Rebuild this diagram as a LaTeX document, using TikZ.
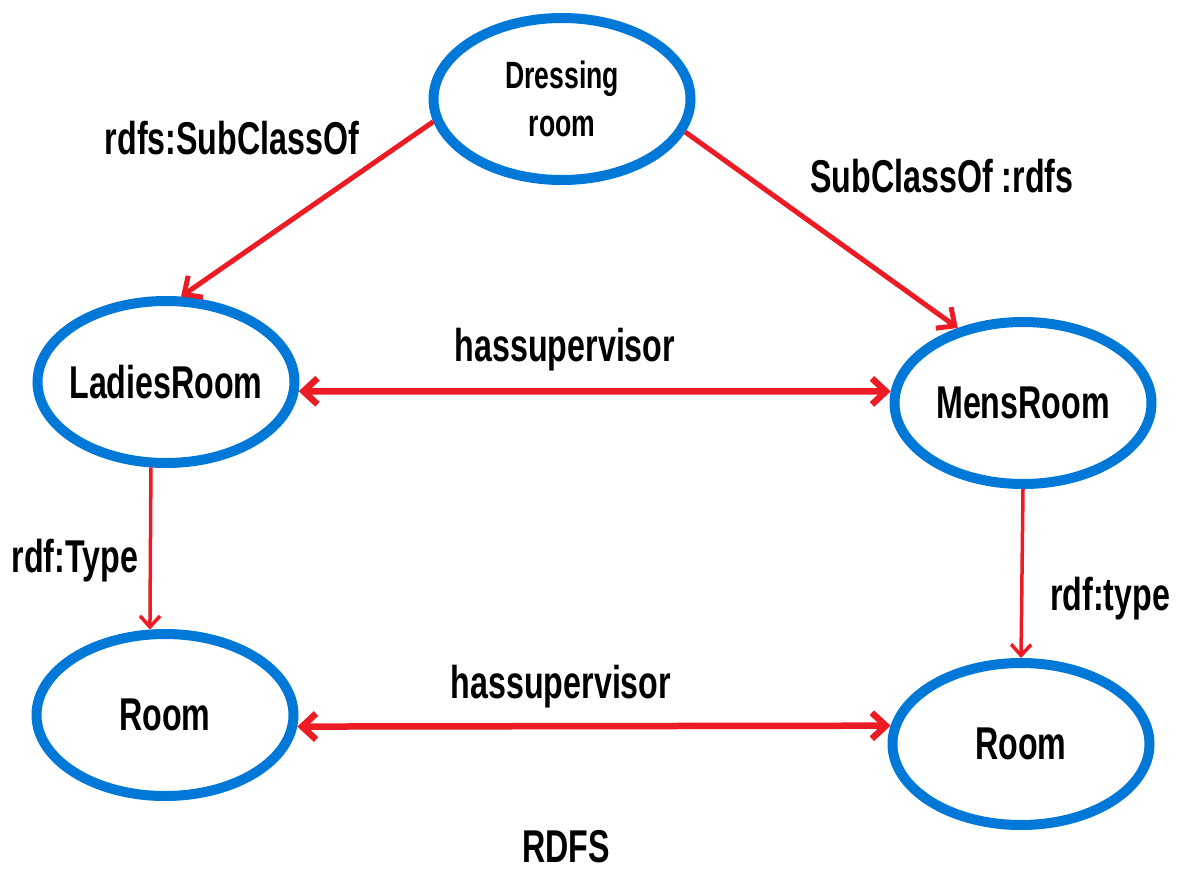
\documentclass[tikz,border=0pt]{standalone}
\usepackage{fontspec}
\setmainfont{Liberation Sans}[FakeStretch=0.7]
\usepackage{xcolor}
\usepackage{tikz}
\usetikzlibrary{shapes.geometric,arrows.meta}
\definecolor{ovalblue}{RGB}{0,120,215}
\definecolor{relred}{RGB}{237,28,36}

\begin{document}
\begin{tikzpicture}[x=1pt,y=1pt]
\tikzstyle{every node}+=[inner sep=0pt, font=\bfseries\fontsize{46}{55}\selectfont]
\tikzstyle{oval}=[ellipse, draw=ovalblue, line width=10pt, inner xsep=-12pt, minimum width=257pt, minimum height=162pt]
\tikzstyle{rel}=[draw=relred, line width=5pt, -{Straight Barb[length=14pt,width=26pt]}]
\tikzstyle{relboth}=[rel, line width=6.5pt, {Straight Barb[length=14pt,width=26pt]}-{Straight Barb[length=14pt,width=26pt]}]
\tikzstyle{reltype}=[draw=relred, line width=3.5pt, -{Straight Barb[length=11pt,width=20pt]}]
\useasboundingbox (0,0) rectangle (1181,-872);
\node [oval, align=center, font=\bfseries\fontsize{38}{48}\selectfont] (dress) at (562,-99) {Dressing\\room};
\node [oval] (ladies) at (166,-382) {LadiesRoom};
\node [oval] (mens) at (1023,-403) {MensRoom};
\node [oval] (roomL) at (165,-715) {Room};
\node [oval] (roomR) at (1021,-744) {Room};
\draw [rel] (dress.190) -- (ladies.80);
\node [anchor=base] (subL) at (232,-155) {rdfs:SubClassOf};
\draw [rel] (dress.-15) -- (mens.131);
\node [anchor=base] (subR) at (942,-193) {SubClassOf :rdfs};
\draw [relboth] (ladies.-4) -- (mens.175);
\node [anchor=base] (supTop) at (565,-361) {hassupervisor};
\draw [reltype] (ladies.-100) -- (roomL.100);
\node [anchor=base] (typeL) at (75,-572) {rdf:Type};
\draw [reltype] (mens.-90) -- (roomR.90);
\node [anchor=base] (typeR) at (1110,-610) {rdf:type};
\draw [relboth] (roomL.-5) -- (roomR.172);
\node [anchor=base] (supBot) at (561,-698) {hassupervisor};
\node [anchor=base] (rdfs) at (566,-862) {RDFS};
\end{tikzpicture}
\end{document}
